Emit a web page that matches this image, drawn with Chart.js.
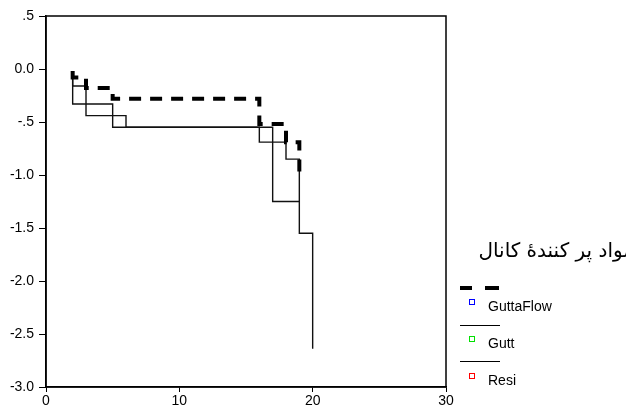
<!DOCTYPE html>
<html>
<head>
<meta charset="utf-8">
<script src="https://cdn.jsdelivr.net/npm/chart.js@4"></script>
<style>
  body { margin: 0; background: #fff; }
  #wrap { position: relative; width: 626px; height: 409px; overflow: hidden; }
  #legend { position: absolute; left: 0; top: 0; width: 626px; height: 409px; pointer-events: none; font-family: "Liberation Sans", Arial, sans-serif; }
  .title { position: absolute; right: -8px; top: 238px; font-family: "DejaVu Sans", sans-serif; font-size: 20px; direction: rtl; white-space: nowrap; color: #000; }
  .sample { position: absolute; left: 460px; width: 40px; height: 0; border-top: 1px solid #000; }
  .dash { position: absolute; height: 4px; background: #000; }
  .mark { position: absolute; left: 469px; width: 4px; height: 4px; border: 1px solid; }
  .lab { position: absolute; left: 488px; font-size: 14px; color: #000; line-height: 14px; }
</style>
</head>
<body>
<div id="wrap">
  <canvas id="chart" width="626" height="409"></canvas>
  <div id="legend"></div>
</div>
<script>
// step points [time, value]
const guttaFlowX = [2, 2, 3, 5, 16, 18, 19];
const guttaFlowY = [-0.02, -0.08, -0.18, -0.28, -0.52, -0.69, -1.03];
const guttX = [2, 2, 3, 6, 16, 18, 19];
const guttY = [-0.08, -0.16, -0.44, -0.55, -0.69, -0.85, -1.25];
const resiX = [2, 2, 5, 17, 19, 20];
const resiY = [-0.08, -0.33, -0.55, -1.25, -1.55, -2.64];

const seriesNames = ["GuttaFlow", "Gutt", "Resi"];
const markerColors = ["#0000ff", "#00e000", "#ff0000"];
const legendTitle = "مواد پر کنندۀ کانال";

const xTicks = [0, 10, 20, 30];
const yTicks = [0.5, 0, -0.5, -1, -1.5, -2, -2.5, -3];
const yTickLabels = [".5", "0.0", "-.5", "-1.0", "-1.5", "-2.0", "-2.5", "-3.0"];

function pts(xs, ys) {
  return xs.map((x, i) => ({ x: x, y: ys[i] }));
}

const frame = {
  id: "frame",
  afterDatasetsDraw(chart) {
    const a = chart.chartArea;
    const ctx = chart.ctx;
    ctx.save();
    ctx.strokeStyle = "#000";
    ctx.lineWidth = 1.5;
    ctx.strokeRect(a.left, a.top, a.right - a.left, a.bottom - a.top);
    ctx.restore();
  }
};

new Chart(document.getElementById("chart"), {
  type: "line",
  data: {
    datasets: [
      { label: seriesNames[0], data: pts(guttaFlowX, guttaFlowY), stepped: "before", borderColor: "#000", borderWidth: 4, borderDash: [12, 9] },
      { label: seriesNames[1], data: pts(guttX, guttY), stepped: "before", borderColor: "#111", borderWidth: 1.4 },
      { label: seriesNames[2], data: pts(resiX, resiY), stepped: "before", borderColor: "#111", borderWidth: 1.4 }
    ]
  },
  options: {
    responsive: false,
    animation: false,
    events: [],
    elements: { point: { radius: 0 } },
    layout: { padding: { top: 16, right: 180, left: 0, bottom: 0 } },
    plugins: { legend: { display: false }, tooltip: { enabled: false } },
    scales: {
      x: {
        type: "linear",
        min: 0, max: 30,
        afterBuildTicks: s => { s.ticks = xTicks.map(v => ({ value: v })); },
        afterFit: s => { s.height = 22; },
        border: { color: "#000", width: 1.5 },
        grid: { drawOnChartArea: false, color: "#000", tickLength: 5 },
        ticks: { color: "#000", padding: 1, font: { family: "Liberation Sans", size: 14 } }
      },
      y: {
        type: "linear",
        min: -3, max: 0.5,
        afterBuildTicks: s => { s.ticks = yTicks.map(v => ({ value: v })); },
        afterFit: s => { s.width = 46; },
        border: { color: "#000", width: 1.5 },
        grid: { drawOnChartArea: false, color: "#000", tickLength: 7 },
        ticks: {
          color: "#000", padding: 5, font: { family: "Liberation Sans", size: 14 },
          callback: (v, i) => yTickLabels[yTicks.indexOf(v)]
        }
      }
    }
  },
  plugins: [frame]
});

// legend in SPSS layout: line sample row, then marker + label row
const lg = document.getElementById("legend");
let html = '<div class="title">' + legendTitle + '</div>';
const sampleTops = [286, 325, 361];
const markTops = [299, 336, 373];
seriesNames.forEach((n, i) => {
  if (i === 0) {
    html += '<div class="dash" style="left:460px;width:12px;top:' + sampleTops[i] + 'px"></div>';
    html += '<div class="dash" style="left:485px;width:14px;top:' + sampleTops[i] + 'px"></div>';
  } else {
    html += '<div class="sample" style="top:' + sampleTops[i] + 'px"></div>';
  }
  html += '<div class="mark" style="top:' + markTops[i] + 'px;border-color:' + markerColors[i] + '"></div>';
  html += '<div class="lab" style="top:' + markTops[i] + 'px">' + n + '</div>';
});
lg.innerHTML = html;
</script>
</body>
</html>
